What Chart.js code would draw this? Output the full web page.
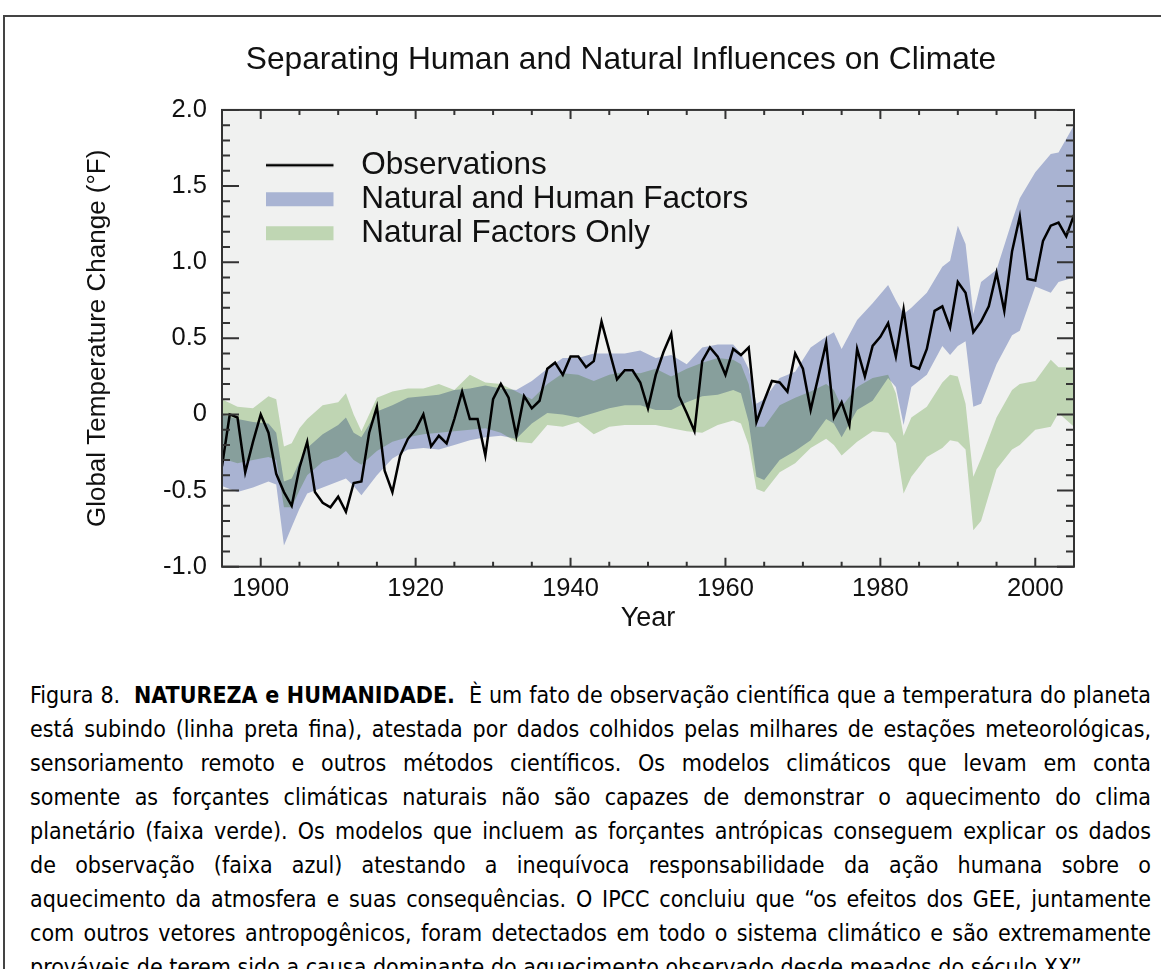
<!DOCTYPE html>
<html>
<head>
<meta charset="utf-8">
<title>Separating Human and Natural Influences on Climate</title>
<script src="https://cdn.jsdelivr.net/npm/chart.js@4.4.1/dist/chart.umd.min.js"></script>
<style>
  html, body { margin: 0; padding: 0; background: #fff; overflow: hidden; }
  body { width: 1161px; height: 969px; position: relative; }
  .frame { position: absolute; left: 3px; top: 15px; width: 1200px; height: 1000px; border-top: 2px solid #444; border-left: 2px solid #444; }
  #chart { position: absolute; left: 0; top: 0; width: 1161px; height: 650px; }
  .caption { position: absolute; left: 30px; top: 678px; width: 1121px; font-family: 'Liberation Sans Narrow', 'DejaVu Sans Condensed', 'Liberation Sans', sans-serif; font-size: 25px; line-height: 34px; color: #000; }
  .caption div { text-align: justify; text-align-last: justify; }
  .caption div.last { text-align-last: left; }
  .caption.measure div { text-align: left; text-align-last: left; white-space: nowrap; }
</style>
</head>
<body>
<div class="frame"></div>
<canvas id="chart" width="1161" height="650"></canvas>
<div class="caption">
  <div><span>Figura 8.&nbsp; <b>NATUREZA e HUMANIDADE.</b>&nbsp; È um fato de observação científica que a temperatura do planeta</span></div>
  <div><span>está subindo (linha preta fina), atestada por dados colhidos pelas milhares de estações meteorológicas,</span></div>
  <div><span>sensoriamento remoto e outros métodos científicos. Os modelos climáticos que levam em conta</span></div>
  <div><span>somente as forçantes climáticas naturais não são capazes de demonstrar o aquecimento do clima</span></div>
  <div><span>planetário (faixa verde). Os modelos que incluem as forçantes antrópicas conseguem explicar os dados</span></div>
  <div><span>de observação (faixa azul) atestando a inequívoca responsabilidade da ação humana sobre o</span></div>
  <div><span>aquecimento da atmosfera e suas consequências. O IPCC concluiu que “os efeitos dos GEE, juntamente</span></div>
  <div><span>com outros vetores antropogênicos, foram detectados em todo o sistema climático e são extremamente</span></div>
  <div class="last"><span>prováveis de terem sido a causa dominante do aquecimento observado desde meados do século XX”</span></div>
</div>
<script>
// observed annual anomalies (°F)
const obsYears = [
  1895, 1896, 1897, 1898, 1899, 1900, 1901, 1902, 1903, 1904,
  1905, 1906, 1907, 1908, 1909, 1910, 1911, 1912, 1913, 1914,
  1915, 1916, 1917, 1918, 1919, 1920, 1921, 1922, 1923, 1924,
  1925, 1926, 1927, 1928, 1929, 1930, 1931, 1932, 1933, 1934,
  1935, 1936, 1937, 1938, 1939, 1940, 1941, 1942, 1943, 1944,
  1945, 1946, 1947, 1948, 1949, 1950, 1951, 1952, 1953, 1954,
  1955, 1956, 1957, 1958, 1959, 1960, 1961, 1962, 1963, 1964,
  1965, 1966, 1967, 1968, 1969, 1970, 1971, 1972, 1973, 1974,
  1975, 1976, 1977, 1978, 1979, 1980, 1981, 1982, 1983, 1984,
  1985, 1986, 1987, 1988, 1989, 1990, 1991, 1992, 1993, 1994,
  1995, 1996, 1997, 1998, 1999, 2000, 2001, 2002, 2003, 2004,
  2005
];
const observations = [
  -0.34, 0.00, -0.02, -0.38, -0.18, 0.00, -0.12, -0.39, -0.51, -0.60,
  -0.35, -0.18, -0.51, -0.58, -0.61, -0.54, -0.64, -0.45, -0.44, -0.12,
  0.05, -0.37, -0.51, -0.27, -0.16, -0.10, 0.00, -0.21, -0.14, -0.19,
  -0.03, 0.15, -0.03, -0.03, -0.27, 0.10, 0.20, 0.11, -0.14, 0.12,
  0.04, 0.09, 0.30, 0.34, 0.26, 0.38, 0.38, 0.31, 0.35, 0.61,
  0.42, 0.23, 0.29, 0.29, 0.21, 0.04, 0.26, 0.41, 0.53, 0.12,
  0.01, -0.11, 0.35, 0.44, 0.38, 0.26, 0.43, 0.39, 0.44, -0.05,
  0.09, 0.22, 0.21, 0.15, 0.40, 0.30, 0.03, 0.25, 0.47, -0.02,
  0.08, -0.07, 0.43, 0.25, 0.45, 0.51, 0.60, 0.38, 0.69, 0.32,
  0.30, 0.43, 0.68, 0.71, 0.57, 0.87, 0.80, 0.54, 0.61, 0.71,
  0.93, 0.68, 1.07, 1.30, 0.89, 0.88, 1.14, 1.24, 1.26, 1.17,
  1.31
];

// model ranges, read at these years
const bandYears = [
  1895, 1897, 1899, 1901, 1902, 1903, 1904, 1905, 1906, 1908,
  1910, 1911, 1912, 1913, 1915, 1917, 1919, 1921, 1923, 1925,
  1927, 1929, 1931, 1933, 1935, 1937, 1939, 1941, 1943, 1945,
  1947, 1949, 1951, 1953, 1955, 1957, 1959, 1961, 1962, 1963,
  1964, 1965, 1967, 1969, 1971, 1973, 1974, 1975, 1977, 1979,
  1981, 1982, 1983, 1984, 1986, 1988, 1989, 1990, 1991, 1992,
  1993, 1995, 1997, 1998, 2000, 2002, 2003, 2005
];
const humanHigh = [
  0.00, -0.03, -0.05, -0.06, -0.12, -0.44, -0.42, -0.31, -0.22, -0.13,
  -0.07, -0.02, -0.12, -0.15, 0.02, 0.06, 0.11, 0.12, 0.13, 0.16,
  0.17, 0.19, 0.17, 0.16, 0.22, 0.30, 0.37, 0.37, 0.40, 0.40,
  0.40, 0.42, 0.37, 0.39, 0.33, 0.44, 0.46, 0.46, 0.40, 0.30,
  0.07, 0.10, 0.24, 0.28, 0.44, 0.51, 0.54, 0.43, 0.62, 0.73,
  0.85, 0.75, 0.66, 0.70, 0.80, 0.97, 1.01, 1.24, 1.12, 0.66,
  0.87, 0.95, 1.27, 1.42, 1.59, 1.71, 1.72, 1.90
];
const humanLow = [
  -0.47, -0.51, -0.48, -0.44, -0.46, -0.86, -0.74, -0.62, -0.52, -0.48,
  -0.44, -0.42, -0.47, -0.53, -0.40, -0.29, -0.23, -0.22, -0.23, -0.20,
  -0.17, -0.15, -0.14, -0.16, -0.06, 0.01, 0.00, -0.02, 0.01, 0.04,
  0.06, 0.06, 0.03, 0.03, 0.08, 0.12, 0.13, 0.16, 0.14, -0.05,
  -0.41, -0.43, -0.30, -0.24, -0.17, -0.03, -0.06, -0.15, 0.03, 0.09,
  0.24, 0.18, -0.07, 0.18, 0.26, 0.45, 0.39, 0.45, 0.48, 0.05,
  0.07, 0.33, 0.52, 0.55, 0.84, 0.80, 0.87, 0.90
];
const naturalHigh = [
  0.10, 0.05, 0.04, 0.12, 0.10, -0.21, -0.19, -0.09, -0.03, 0.06,
  0.08, 0.14, 0.00, -0.11, 0.11, 0.15, 0.17, 0.17, 0.20, 0.16,
  0.26, 0.21, 0.20, 0.15, 0.10, 0.20, 0.27, 0.26, 0.22, 0.26,
  0.28, 0.27, 0.30, 0.25, 0.30, 0.34, 0.37, 0.36, 0.33, 0.20,
  -0.08, -0.08, 0.06, 0.11, 0.15, 0.20, 0.16, 0.05, 0.18, 0.24,
  0.26, 0.14, -0.14, -0.02, 0.05, 0.21, 0.26, 0.25, 0.07, -0.41,
  -0.29, -0.02, 0.16, 0.20, 0.22, 0.36, 0.31, 0.31
];
const naturalLow = [
  -0.29, -0.32, -0.30, -0.28, -0.30, -0.61, -0.61, -0.50, -0.40, -0.31,
  -0.28, -0.24, -0.30, -0.33, -0.24, -0.18, -0.15, -0.13, -0.12, -0.11,
  -0.10, -0.09, -0.12, -0.18, -0.19, -0.07, -0.08, -0.05, -0.13, -0.08,
  -0.07, -0.07, -0.07, -0.09, -0.11, -0.12, -0.07, -0.04, -0.06, -0.20,
  -0.49, -0.51, -0.38, -0.32, -0.22, -0.16, -0.20, -0.27, -0.18, -0.11,
  -0.12, -0.19, -0.52, -0.41, -0.28, -0.22, -0.17, -0.18, -0.23, -0.76,
  -0.70, -0.36, -0.23, -0.20, -0.10, -0.08, 0.01, -0.08
];
const xTickLabels = [1900, 1920, 1940, 1960, 1980, 2000];

const FONT = "'Liberation Sans', Arial, Helvetica, sans-serif";
const PLOT_BG = '#F0F1F0';
// colours as they appear on the grey plot
const BLUE_SHOWN = '#A9B4D3';
const GREEN_SHOWN = '#BFD6B3';
// same colours before the multiply blend (so overlaps turn teal)
const BLUE_MUL = '#B4BEE0';
const GREEN_MUL = '#CBE2BE';

Chart.defaults.font.family = FONT;
Chart.defaults.color = '#111';

const toPoints = (vals) => vals.map((v, i) => ({ x: bandYears[i], y: v }));

function swatch(kind, color) {
  const c = document.createElement('canvas');
  c.width = 80;
  c.height = 16;
  const g = c.getContext('2d');
  if (kind === 'line') {
    g.strokeStyle = color;
    g.lineWidth = 2.5;
    g.beginPath();
    g.moveTo(0, 8);
    g.lineTo(68, 8);
    g.stroke();
  } else {
    g.fillStyle = color;
    g.fillRect(0, 1, 68, 14);
  }
  return c;
}

const legendItems = [
  { text: 'Observations', pointStyle: swatch('line', '#000') },
  { text: 'Natural and Human Factors', pointStyle: swatch('box', BLUE_SHOWN) },
  { text: 'Natural Factors Only', pointStyle: swatch('box', GREEN_SHOWN) },
];

const plotDecor = {
  id: 'plotDecor',
  beforeDraw(chart) {
    const { ctx, chartArea: a } = chart;
    ctx.save();
    ctx.fillStyle = PLOT_BG;
    ctx.fillRect(a.left, a.top, a.width, a.height);
    ctx.restore();
  },
  afterLayout(chart) {
    const a = chart.chartArea;
    // title is centred a little left of the plot in the original
    if (chart.titleBlock) {
      chart.titleBlock.left = a.left - 54;
      chart.titleBlock.right = a.right;
    }
    // legend sits inside the plot, upper left
    const lg = chart.legend;
    if (!lg) return;
    lg.left = a.left + 41;
    lg.top = a.top + 37;
    lg.right = a.right;
    lg.bottom = a.bottom;
  },
  beforeDatasetsDraw(chart) {
    chart.ctx.save();
    chart.ctx.globalCompositeOperation = 'multiply';
  },
  afterDatasetsDraw(chart) {
    const { ctx, chartArea: a, scales: { x, y } } = chart;
    ctx.restore();
    ctx.save();
    ctx.strokeStyle = '#333';
    ctx.lineWidth = 2;
    ctx.beginPath();
    // inward ticks, every 5 years on x and every 0.1 on y
    for (let yr = 1895; yr <= 2005; yr += 5) {
      const px = x.getPixelForValue(yr);
      const len = yr % 20 === 0 ? 9 : 5;
      ctx.moveTo(px, a.bottom);
      ctx.lineTo(px, a.bottom - len);
      ctx.moveTo(px, a.top);
      ctx.lineTo(px, a.top + len);
    }
    for (let k = -10; k <= 20; k++) {
      const py = y.getPixelForValue(k / 10);
      const len = k % 5 === 0 ? 17 : 8;
      ctx.moveTo(a.left, py);
      ctx.lineTo(a.left + len, py);
      ctx.moveTo(a.right, py);
      ctx.lineTo(a.right - len, py);
    }
    ctx.stroke();
    ctx.strokeRect(a.left, a.top, a.width, a.height);
    ctx.restore();
  }
};

new Chart(document.getElementById('chart'), {
  type: 'line',
  data: {
    labels: obsYears,
    datasets: [
      {
        label: 'Observations',
        data: observations,
        borderColor: '#000',
        borderWidth: 2.5,
        pointRadius: 0,
        fill: false,
        tension: 0,
      },
      {
        label: 'Natural Factors Only',
        data: toPoints(naturalHigh),
        borderColor: 'rgba(0,0,0,0)',
        borderWidth: 0,
        pointRadius: 0,
        backgroundColor: GREEN_MUL,
        fill: '+1',
      },
      {
        label: 'natural low',
        data: toPoints(naturalLow),
        borderColor: 'rgba(0,0,0,0)',
        borderWidth: 0,
        pointRadius: 0,
        fill: false,
      },
      {
        label: 'Natural and Human Factors',
        data: toPoints(humanHigh),
        borderColor: 'rgba(0,0,0,0)',
        borderWidth: 0,
        pointRadius: 0,
        backgroundColor: BLUE_MUL,
        fill: '+1',
      },
      {
        label: 'human low',
        data: toPoints(humanLow),
        borderColor: 'rgba(0,0,0,0)',
        borderWidth: 0,
        pointRadius: 0,
        fill: false,
      },
    ],
  },
  options: {
    responsive: false,
    animation: false,
    events: [],
    layout: { padding: { left: 0, right: 87, top: 0, bottom: 0 } },
    plugins: {
      title: {
        display: true,
        text: 'Separating Human and Natural Influences on Climate',
        font: { size: 31.7, weight: 'normal' },
        color: '#111',
        padding: { top: 41, bottom: 30.9 },
      },
      legend: {
        position: 'chartArea',
        align: 'start',
        labels: {
          usePointStyle: true,
          pointStyleWidth: 80,
          boxHeight: 16,
          padding: 2.5,
          font: { size: 31.5 },
          color: '#111',
          generateLabels: () => legendItems.map((it, i) => ({
            text: it.text,
            pointStyle: it.pointStyle,
            fillStyle: '#000',
            strokeStyle: '#000',
            lineWidth: 0,
            fontColor: '#111',
            hidden: false,
            datasetIndex: i,
          })),
        },
      },
      tooltip: { enabled: false },
    },
    scales: {
      x: {
        type: 'linear',
        min: 1895,
        max: 2005,
        grid: { display: false, drawTicks: false },
        border: { display: false },
        ticks: {
          stepSize: 5,
          autoSkip: false,
          maxRotation: 0,
          padding: 7,
          font: { size: 25.5 },
          color: '#111',
          callback: (v) => (xTickLabels.includes(v) ? String(v) : ''),
        },
        title: {
          display: true,
          text: 'Year',
          font: { size: 27 },
          color: '#111',
          padding: { top: 0, bottom: 15 },
        },
        afterFit: (s) => { s.height = 83.3; },
      },
      y: {
        min: -1,
        max: 2,
        grid: { display: false, drawTicks: false },
        border: { display: false },
        ticks: {
          stepSize: 0.5,
          padding: 15,
          font: { size: 25.5 },
          color: '#111',
          callback: (v) => (v === 0 ? '0' : v.toFixed(1)),
        },
        title: {
          display: true,
          text: 'Global Temperature Change (°F)',
          font: { size: 26 },
          color: '#111',
          padding: { top: 82.4, bottom: 0 },
        },
        afterFit: (s) => { s.width = 222; },
      },
    },
  },
  plugins: [plotDecor],
});

// shrink the caption a little if the fallback font runs wide
const cap = document.querySelector('.caption');
cap.classList.add('measure');
let widest = 0;
cap.querySelectorAll('div > span').forEach((s) => {
  widest = Math.max(widest, s.getBoundingClientRect().width);
});
if (widest > 1118) {
  cap.style.fontSize = (Math.floor(25 * 1118 / widest * 10) / 10) + 'px';
}
cap.classList.remove('measure');
</script>
</body>
</html>
